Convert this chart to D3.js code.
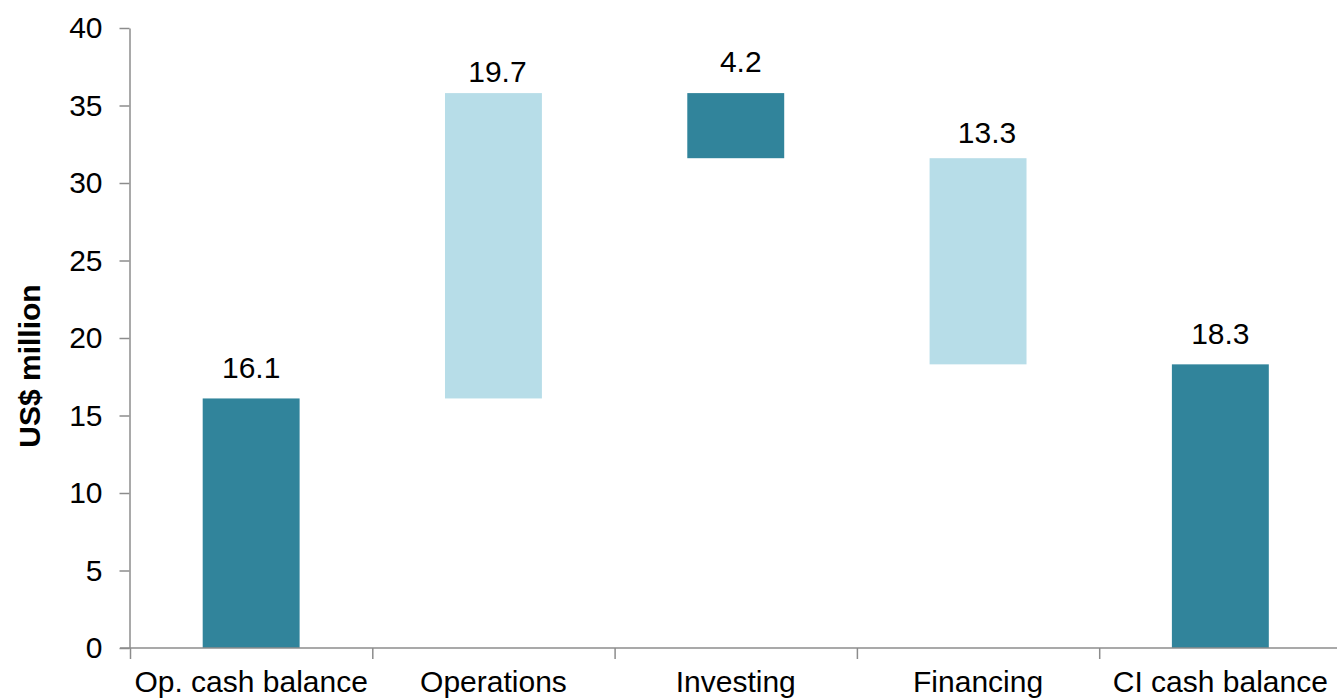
<!DOCTYPE html>
<html>
<head>
<meta charset="utf-8">
<script src="https://cdn.jsdelivr.net/npm/d3@7/dist/d3.min.js"></script>
<style>
  html, body { margin: 0; padding: 0; background: #fff; overflow: hidden; }
  svg { display: block; font-family: "Liberation Sans", Arial, sans-serif; }
</style>
</head>
<body>
<svg id="chart" width="1337" height="699"></svg>
<script>
// ---- data ----
const categories = ["Op. cash balance", "Operations", "Investing", "Financing", "CI cash balance"];
const changes = [16.1, 19.7, -4.2, -13.3, 18.3];
const isTotal = [true, false, false, false, true];
const valueLabels = ["16.1", "19.7", "4.2", "13.3", "18.3"];
const yTicks = [0, 5, 10, 15, 20, 25, 30, 35, 40];
const yTitle = "US$ million";

// ---- styling / layout ----
const DARK = "#31849B", LIGHT = "#B7DDE8", AXIS = "#8c8c8c";
const barColors = [DARK, LIGHT, DARK, LIGHT, DARK];
const labelNudge = [[0, 20], [4, 11], [5, 21], [9, 15], [0, 20]]; // [dx, gap above bar]
const FS = 30;

const svg = d3.select("#chart");
const x0 = 130, x1 = 1341.5, yTop = 28, yBot = 648;

const y = d3.scaleLinear().domain([0, 40]).range([yBot, yTop]);
const x = d3.scaleBand().domain(categories).range([x0, x1]).paddingInner(0.6).paddingOuter(0.3);
const xb = d3.scaleLinear().domain([0, categories.length]).range([x0, x1]);

// compute waterfall segments
let run = 0;
const bars = categories.map((c, i) => {
  let lo, hi;
  if (isTotal[i]) { lo = 0; hi = changes[i]; run = changes[i]; }
  else { const s = run; run = run + changes[i]; lo = Math.min(s, run); hi = Math.max(s, run); }
  return { c, i, lo, hi };
});

// bars
svg.append("g").selectAll("rect").data(bars).join("rect")
  .attr("x", d => x(d.c))
  .attr("width", x.bandwidth())
  .attr("y", d => y(d.hi))
  .attr("height", d => y(d.lo) - y(d.hi))
  .attr("fill", d => barColors[d.i]);

// value labels
svg.append("g").selectAll("text").data(bars).join("text")
  .attr("x", d => x(d.c) + x.bandwidth() / 2 + labelNudge[d.i][0])
  .attr("y", d => y(d.hi) - labelNudge[d.i][1])
  .attr("text-anchor", "middle")
  .attr("font-size", FS)
  .attr("fill", "#000")
  .text(d => valueLabels[d.i]);

// y axis
const gy = svg.append("g").attr("transform", `translate(${x0 - 0.5},0)`)
  .call(d3.axisLeft(y).tickValues(yTicks).tickSize(10).tickSizeOuter(0).tickPadding(17));
gy.selectAll("text").attr("font-size", FS).attr("fill", "#000").attr("font-family", "Liberation Sans, Arial, sans-serif");
gy.selectAll("line, path").attr("stroke", AXIS).attr("stroke-width", 1.5);

// x axis boundary ticks
const gx = svg.append("g").attr("transform", `translate(0,${yBot})`)
  .call(d3.axisBottom(xb).tickValues(d3.range(categories.length + 1)).tickFormat("").tickSize(11).tickSizeOuter(0));
gx.select(".domain").remove();
gx.selectAll("line").attr("stroke", AXIS).attr("stroke-width", 1.5);
svg.append("line").attr("x1", x0 - 10).attr("x2", 1337).attr("y1", yBot).attr("y2", yBot)
  .attr("stroke", AXIS).attr("stroke-width", 1.5);

// category labels
const gc = svg.append("g").attr("transform", `translate(0,${yBot})`)
  .call(d3.axisBottom(x).tickSize(0).tickPadding(0));
gc.select(".domain").remove();
gc.selectAll("text").attr("font-size", FS).attr("fill", "#000").attr("dy", 0).attr("y", 44)
  .attr("font-family", "Liberation Sans, Arial, sans-serif");

// y title
svg.append("text")
  .attr("transform", `translate(40,${366}) rotate(-90)`)
  .attr("text-anchor", "middle")
  .attr("font-size", FS)
  .attr("font-weight", "bold")
  .attr("fill", "#000")
  .text(yTitle);
</script>
</body>
</html>
